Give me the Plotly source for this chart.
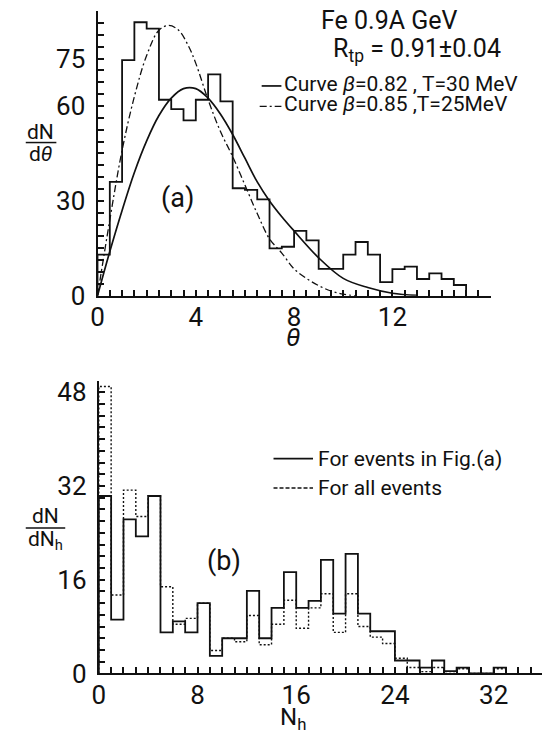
import plotly.graph_objects as go

W, H = 542, 745

# ---- panel (a): angular distribution, bins of 0.5 in theta ----
theta_edges = [i * 0.5 for i in range(31)]
theta_counts = [13, 36, 74.5, 86.5, 84.5, 62, 59, 55.5, 62, 70,
                61.5, 34, 33.5, 30.5, 15, 15.5, 20.5, 17.5, 8.5, 8.5,
                13, 17, 13, 4.3, 8.4, 9.2, 5.3, 7.1, 5.3, 3.4]

# model curves read along theta
curve1_theta = [0, 0.5, 1.0, 1.5, 2.0, 2.5, 3.0, 3.5, 4.0, 4.5, 5.0, 5.5, 6.0,
                6.5, 7.0, 7.5, 8.0, 9.0, 10.0, 11.0, 12.0, 13.0]
curve1_vals = [0, 14, 27, 39, 49, 57, 62.5, 65.5, 65.5, 62.5, 57.5, 51, 43.5,
               36, 30, 25, 20.5, 12.0, 5.5, 2.6, 0.8, 0.1]
curve2_theta = [0, 0.5, 1.0, 1.5, 2.0, 2.5, 2.9, 3.3, 3.7, 4.0, 4.5, 5.0, 5.5,
                6.0, 6.5, 7.0, 7.5, 8.0, 8.5, 9.0, 9.5, 10.0, 10.5]
curve2_vals = [0, 24, 46, 63, 76, 84, 85.5, 84, 79, 73.5, 62, 52, 44,
               35, 26, 18, 13.5, 8.5, 5.5, 3.2, 1.5, 0.5, 0]

# ---- panel (b): N_h distribution, unit bins ----
nh_edges = list(range(34))
nh_events_a = [30.3, 9.2, 26.3, 23.4, 30.3, 7.0, 8.9, 7.0, 12, 3.0,
               6.0, 6.0, 14.1, 6.0, 11.2, 17.3, 11.2, 12.4, 19.4, 10.2,
               20.4, 10.2, 7.2, 7.2, 2.2, 2.2, 1.0, 2.2, 0.4, 1.0,
               0, 0, 1.0]
nh_all = [49, 13.4, 31.3, 26.8, 30.3, 14.8, 8.4, 9.4, 12, 3.9,
          6.0, 5.4, 9.9, 4.9, 8.4, 12.5, 7.7, 11.2, 13.6, 7.0,
          13.6, 8.0, 6.2, 5.1, 2.6, 1.0, 0.3, 1.0, 0.3, 0.8,
          0, 0, 0.8]

theta_ticks = [0, 4, 8, 12]
dndtheta_ticks = [0, 30, 60, 75]
nh_ticks = [0, 8, 16, 24, 32]
dndnh_ticks = [0, 16, 32, 48]


def steps(edges, counts):
    """Closed step outline starting and ending on the baseline."""
    xs = [edges[0]] + list(edges)
    ys = [0] + list(counts) + [0]
    return xs, ys


FONT = "Roboto, DejaVu Sans, sans-serif"
INK = "#111111"
DASHDOT = "7px,3px,2px,3px"

fig = go.Figure()

hx, hy = steps(theta_edges, theta_counts)
fig.add_trace(go.Scatter(x=hx, y=hy, mode="lines", line_shape="hv",
                         line=dict(color=INK, width=1.8),
                         xaxis="x", yaxis="y", showlegend=False))
fig.add_trace(go.Scatter(x=curve1_theta, y=curve1_vals, mode="lines",
                         line_shape="spline",
                         line=dict(color=INK, width=1.7),
                         xaxis="x", yaxis="y", showlegend=False))
fig.add_trace(go.Scatter(x=curve2_theta, y=curve2_vals, mode="lines",
                         line_shape="spline",
                         line=dict(color=INK, width=1.3, dash=DASHDOT),
                         xaxis="x", yaxis="y", showlegend=False))

ax, ay = steps(nh_edges, nh_all)
fig.add_trace(go.Scatter(x=ax, y=ay, mode="lines", line_shape="hv",
                         line=dict(color=INK, width=1.4, dash="2px,2px"),
                         xaxis="x2", yaxis="y2", showlegend=False))
ex, ey = steps(nh_edges, nh_events_a)
fig.add_trace(go.Scatter(x=ex, y=ey, mode="lines", line_shape="hv",
                         line=dict(color=INK, width=1.8),
                         xaxis="x2", yaxis="y2", showlegend=False))


def px(x):
    return x / W


def py(y):
    return 1 - y / H


axis_common = dict(showline=True, linecolor=INK, linewidth=2, showgrid=False,
                   zeroline=False, ticks="inside", tickcolor=INK, tickwidth=1.5,
                   ticklen=6, tickfont=dict(family=FONT, size=26, color=INK))

fig.update_layout(
    width=W, height=H, margin=dict(l=0, r=0, t=0, b=0),
    paper_bgcolor="white", plot_bgcolor="white",
    xaxis=dict(domain=[px(91.7), px(490)], range=[0, 16], anchor="y",
               ticklabelstandoff=-3, **axis_common),
    yaxis=dict(domain=[py(300), py(8.4)], range=[0, 90], anchor="x",
               ticklabelstandoff=5, **axis_common),
    xaxis2=dict(domain=[px(93), 1.0], range=[0, 449 / 12.5], anchor="y2",
                ticklabelstandoff=-3, **axis_common),
    yaxis2=dict(domain=[py(687), py(387)], range=[0, 50], anchor="x2",
                ticklabelstandoff=5, **axis_common),
)

# Tick marks on every minor step, labels only on the named values
for name, step, labelled in [("xaxis", 0.5, theta_ticks), ("yaxis", 3.75, dndtheta_ticks),
                             ("xaxis2", 1, nh_ticks), ("yaxis2", 2, dndnh_ticks)]:
    rng = fig.layout[name].range
    vals = []
    v = 0.0
    while v <= rng[1] + 1e-9:
        vals.append(round(v, 4))
        v += step
    texts = [str(int(t)) if any(abs(t - l) < 1e-6 for l in labelled) else "" for t in vals]
    fig.layout[name].update(tickmode="array", tickvals=vals, ticktext=texts)

ann = []


def text(x, y, s, size=22, xanchor="left"):
    ann.append(dict(x=px(x), y=py(y), xref="paper", yref="paper", text=s,
                    showarrow=False, xanchor=xanchor, yanchor="middle",
                    font=dict(family=FONT, size=size, color=INK)))


text(316, 18, "Fe 0.9A GeV", 25)
text(328, 48, "R<sub>tp</sub> = 0.91±0.04", 25)
text(279, 83, "Curve <i>β</i>=0.82 , T=30 MeV", 21)
text(279, 104, "Curve <i>β</i>=0.85 ,T=25MeV", 21)
text(173, 200, "(a)", 27, "center")
text(220, 572, "(b)", 27, "center")
text(313, 467, "For events in Fig.(a)", 21)
text(313, 497, "For all events", 21)
text(290, 342, "<i>θ</i>", 26, "center")
text(290, 733, "N<sub>h</sub>", 24, "center")
text(34, 132, "dN", 21, "center")
text(34, 155, "d<i>θ</i>", 21, "center")
text(39, 526, "dN", 21, "center")
text(39, 551, "dN<sub>h</sub>", 21, "center")
fig.update_layout(annotations=ann)

shapes = [
    dict(type="line", xref="paper", yref="paper", x0=px(19), x1=px(50),
         y0=py(143), y1=py(143), line=dict(color=INK, width=1.5)),
    dict(type="line", xref="paper", yref="paper", x0=px(19), x1=px(59),
         y0=py(538), y1=py(538), line=dict(color=INK, width=1.5)),
    dict(type="line", xref="paper", yref="paper", x0=px(258), x1=px(278),
         y0=py(85), y1=py(85), line=dict(color=INK, width=1.7)),
    dict(type="line", xref="paper", yref="paper", x0=px(256), x1=px(278),
         y0=py(106), y1=py(106), line=dict(color=INK, width=1.3, dash=DASHDOT)),
    dict(type="line", xref="paper", yref="paper", x0=px(270), x1=px(310),
         y0=py(467), y1=py(467), line=dict(color=INK, width=1.8)),
    dict(type="line", xref="paper", yref="paper", x0=px(270), x1=px(310),
         y0=py(497), y1=py(497), line=dict(color=INK, width=1.4, dash="4px,2px")),
]
fig.update_layout(shapes=shapes)

fig.write_html("out.html")
